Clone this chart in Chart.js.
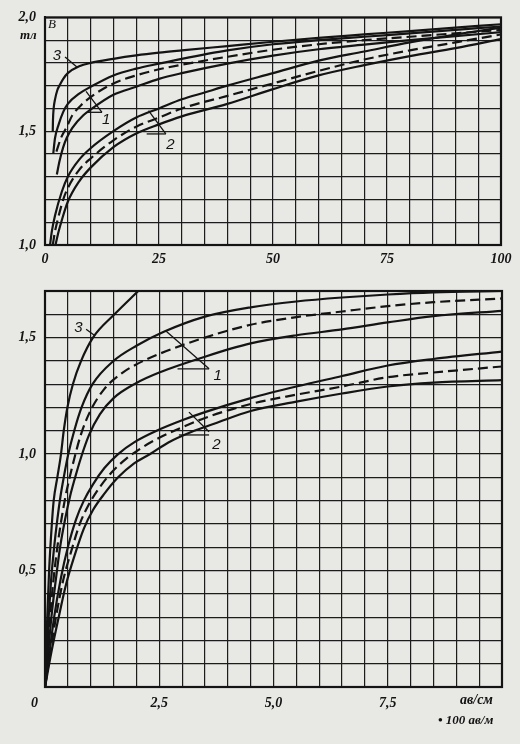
<!DOCTYPE html>
<html><head><meta charset="utf-8">
<script src="https://cdn.jsdelivr.net/npm/chart.js@4.4.0/dist/chart.umd.min.js"></script>
<style>
html,body{margin:0;padding:0;background:#e8e8e5;width:520px;height:744px;overflow:hidden;font-family:"Liberation Serif",serif;}
.c{position:absolute;left:0;}
.t{position:absolute;font-style:italic;font-weight:bold;color:#111;font-size:14px;white-space:nowrap;line-height:1;}
</style></head><body>
<div class="c" style="top:0;width:520px;height:270px"><canvas id="top" width="520" height="270"></canvas></div>
<div class="c" style="top:270px;width:520px;height:444px"><canvas id="bot" width="520" height="444"></canvas></div>
<div class="t" style="left:20px;top:28px;font-size:13px">тл</div>
<div class="t" style="left:48px;top:17px;font-size:13px;font-weight:normal">B</div>
<div class="t" style="left:460px;top:693px">ав/см</div>
<div class="t" style="left:438px;top:713px;font-size:13px">• 100 ав/м</div>
<script>
// ---------- upper panel (H 0..100) ----------
const topXLabels = [0, 25, 50, 75, 100];
const topYLabels = {10: '1,0', 15: '1,5', 20: '2,0'};

const topH3  = [1.7,1.75,1.9,2.2,2.7,3.3,4,5,7.5,10,15,20,25,30,40,50,60,70,80,90,100];
const topB3  = [1.5,1.55,1.6,1.64,1.68,1.705,1.73,1.755,1.785,1.8,1.818,1.833,1.845,1.855,1.874,1.893,1.91,1.925,1.94,1.955,1.97];
const topH1a = [1.8,2.2,3,4,5,7.5,10,15,20,25,30,40,50,60,70,80,90,100];
const topB1a = [1.4,1.47,1.53,1.585,1.62,1.665,1.695,1.745,1.775,1.797,1.818,1.855,1.882,1.9,1.915,1.93,1.945,1.96];
const topH1b = [2.5,3.5,4.8,6,7.7,10,15,20,25,30,40,50,60,70,80,90,100];
const topB1b = [1.41,1.47,1.52,1.57,1.61,1.65,1.71,1.745,1.772,1.792,1.827,1.858,1.882,1.9,1.915,1.93,1.945];
const topH1c = [2.6,3.2,4,4.75,6,8.4,10,15,20,25,30,40,50,60,70,80,90,100];
const topB1c = [1.31,1.37,1.43,1.47,1.515,1.57,1.595,1.66,1.695,1.73,1.755,1.797,1.832,1.86,1.88,1.9,1.918,1.935];
const topH2a = [1.1,1.5,2.2,3.7,5,7.5,10,15,20,25,30,35,40,50,60,70,80,90,100];
const topB2a = [1.0,1.06,1.13,1.235,1.3,1.375,1.425,1.5,1.56,1.6,1.64,1.67,1.7,1.755,1.81,1.85,1.89,1.925,1.955];
const topH2b = [1.7,2.2,2.9,4,5,7.5,10,15,20,25,30,40,50,60,70,80,90,100];
const topB2b = [1.0,1.06,1.12,1.2,1.25,1.33,1.38,1.46,1.52,1.56,1.6,1.655,1.71,1.765,1.815,1.855,1.89,1.925];
const topH2c = [2.3,3,3.7,5,7.5,10,15,20,25,30,40,50,60,70,80,90,100];
const topB2c = [1.0,1.06,1.11,1.19,1.28,1.34,1.43,1.49,1.53,1.565,1.62,1.685,1.745,1.79,1.83,1.865,1.905];

// leader lines [x1,y1,x2,y2] and labels [x,y,text] in data units
const topLeaders = [[4.4,1.826,7,1.782],[9,1.675,12.5,1.583],[9.4,1.583,12.5,1.583],[22.7,1.59,26.5,1.488],[22.3,1.488,26.5,1.488]];
const topMarks = [[2.6,1.833,'3'],[13.4,1.548,'1'],[27.5,1.44,'2']];

// ---------- lower panel (H 0..10) ----------
const botXLabels = {0: '0\u2003\u2002', 25: '2,5', 50: '5,0', 75: '7,5'};
const botYLabels = {5: '0,5', 10: '1,0', 15: '1,5'};

const botH3  = [0,0.02,0.05,0.09,0.15,0.19,0.27,0.35,0.41,0.49,0.61,0.79,1.05,1.52,2.04];
const botB3  = [0,0.15,0.3,0.5,0.7,0.8,0.9,1.0,1.1,1.2,1.3,1.4,1.5,1.6,1.7];
const botH1a = [0,0.04,0.08,0.13,0.2,0.27,0.34,0.42,0.51,0.64,0.8,1.04,1.5,2.0,2.6,3.5,4.5,5.5,6.5,7.5,8.5,10];
const botB1a = [0,0.15,0.3,0.45,0.6,0.72,0.82,0.91,1.0,1.1,1.2,1.3,1.4,1.465,1.525,1.59,1.63,1.655,1.672,1.685,1.694,1.7];
const botH1b = [0,0.06,0.11,0.18,0.27,0.36,0.45,0.54,0.64,0.78,0.98,1.3,1.7,2.0,2.5,3.5,4.5,5.5,6.5,7.5,8.5,10];
const botB1b = [0,0.15,0.3,0.45,0.6,0.72,0.82,0.9,0.98,1.08,1.18,1.28,1.35,1.385,1.43,1.5,1.555,1.588,1.612,1.635,1.652,1.668];
const botH1c = [0,0.07,0.14,0.23,0.33,0.44,0.55,0.66,0.78,0.96,1.2,1.5,2.0,2.5,3.5,4.5,5.5,6.5,7.5,8.5,10];
const botB1c = [0,0.15,0.3,0.45,0.6,0.72,0.82,0.9,0.98,1.08,1.17,1.24,1.305,1.35,1.418,1.475,1.51,1.535,1.565,1.592,1.615];
const botH2a = [0,0.1,0.2,0.35,0.5,0.68,0.85,1.05,1.3,1.6,1.95,2.5,3.0,3.5,4.5,5.5,6.5,7.5,8.5,10];
const botB2a = [0,0.15,0.3,0.47,0.6,0.72,0.8,0.87,0.94,1.0,1.05,1.105,1.145,1.18,1.24,1.29,1.335,1.38,1.408,1.44];
const botH2b = [0,0.12,0.24,0.4,0.57,0.76,0.95,1.17,1.45,1.78,2.1,2.5,3.0,3.5,4.5,5.5,6.5,7.5,8.5,10];
const botB2b = [0,0.15,0.3,0.46,0.58,0.7,0.78,0.85,0.92,0.98,1.025,1.07,1.115,1.155,1.215,1.255,1.29,1.33,1.35,1.376];
const botH2c = [0,0.14,0.3,0.46,0.64,0.85,1.05,1.3,1.6,1.95,2.3,2.7,3.2,3.7,4.5,5.5,6.5,7.5,8.5,10];
const botB2c = [0,0.15,0.3,0.44,0.56,0.68,0.76,0.83,0.9,0.96,1.0,1.05,1.095,1.13,1.185,1.225,1.26,1.29,1.307,1.317];

const botLeaders = [[0.9,1.536,1.08,1.51],[2.64,1.529,3.59,1.366],[2.9,1.366,3.59,1.366],[3.15,1.18,3.59,1.096],[2.93,1.082,3.59,1.082]];
const botMarks = [[0.73,1.54,'3'],[3.78,1.335,'1'],[3.75,1.04,'2']];

// ---------- drawing ----------
const INK = '#141414';
const tickFont = {family: '"Liberation Serif", serif', size: 14, style: 'italic', weight: 'bold'};

function ds(H, B, dashed) {
  return {data: H.map((h, i) => ({x: h, y: B[i]})), borderColor: INK, borderWidth: 2.2,
    borderDash: dashed ? [10, 5] : [], pointRadius: 0, fill: false, cubicInterpolationMode: 'monotone'};
}

const annot = {top: {lines: topLeaders, marks: topMarks}, bot: {lines: botLeaders, marks: botMarks}};

const framePlugin = {
  id: 'frameAndLeaders',
  afterDatasetsDraw(chart) {
    const {ctx, chartArea: a, scales: {x, y}} = chart;
    ctx.save();
    ctx.strokeStyle = INK; ctx.lineWidth = 2.2;
    ctx.strokeRect(a.left, a.top, a.right - a.left, a.bottom - a.top);
    const an = annot[chart.canvas.id];
    ctx.lineWidth = 1.3;
    an.lines.forEach(([x1, y1, x2, y2]) => {
      ctx.beginPath();
      ctx.moveTo(x.getPixelForValue(x1), y.getPixelForValue(y1));
      ctx.lineTo(x.getPixelForValue(x2), y.getPixelForValue(y2));
      ctx.stroke();
    });
    ctx.fillStyle = INK; ctx.font = 'italic 15px "Liberation Sans", sans-serif';
    ctx.textAlign = 'center'; ctx.textBaseline = 'middle';
    an.marks.forEach(([mx, my, t]) => ctx.fillText(t, x.getPixelForValue(mx), y.getPixelForValue(my)));
    ctx.restore();
  }
};

function makeChart(id, datasets, xopt, yopt, padding, xh) {
  return new Chart(document.getElementById(id), {
    type: 'line',
    data: {datasets},
    options: {
      responsive: false, animation: false, devicePixelRatio: 1,
      layout: {padding},
      plugins: {legend: {display: false}, tooltip: {enabled: false}},
      scales: {
        x: Object.assign({type: 'linear', grid: {color: '#1c1c1c', lineWidth: 1.2, drawTicks: false},
          border: {display: true, color: INK, width: 2},
          afterFit: s => { s.height = xh; }}, xopt),
        y: Object.assign({type: 'linear', grid: {color: '#1c1c1c', lineWidth: 1.2, drawTicks: false},
          border: {display: true, color: INK, width: 2},
          afterFit: s => { s.width = 45; }}, yopt)
      }
    },
    plugins: [framePlugin]
  });
}

makeChart('top', [
  ds(topH3, topB3, false), ds(topH1a, topB1a, false), ds(topH1b, topB1b, true), ds(topH1c, topB1c, false),
  ds(topH2a, topB2a, false), ds(topH2b, topB2b, true), ds(topH2c, topB2c, false)
], {min: 0, max: 100, ticks: {stepSize: 5, autoSkip: false, maxRotation: 0, padding: 6, color: INK, font: tickFont,
    callback: v => topXLabels.includes(Math.round(v)) ? String(Math.round(v)) : ''}},
   {min: 1, max: 2, ticks: {stepSize: 0.1, autoSkip: false, padding: 9, color: INK, font: tickFont,
    callback: v => topYLabels[Math.round(v * 10)] || ''}},
   {left: 0, right: 19, top: 15, bottom: 0}, 25);

makeChart('bot', [
  ds(botH3, botB3, false), ds(botH1a, botB1a, false), ds(botH1b, botB1b, true), ds(botH1c, botB1c, false),
  ds(botH2a, botB2a, false), ds(botH2b, botB2b, true), ds(botH2c, botB2c, false)
], {min: 0, max: 10, ticks: {stepSize: 0.5, autoSkip: false, maxRotation: 0, padding: 8, color: INK, font: tickFont,
    callback: v => botXLabels[Math.round(v * 10)] || ''}},
   {min: 0, max: 1.7, ticks: {stepSize: 0.1, autoSkip: false, padding: 9, color: INK, font: tickFont,
    callback: v => botYLabels[Math.round(v * 10)] || ''}},
   {left: 0, right: 18, top: 21, bottom: 0}, 27);
</script>
</body></html>
